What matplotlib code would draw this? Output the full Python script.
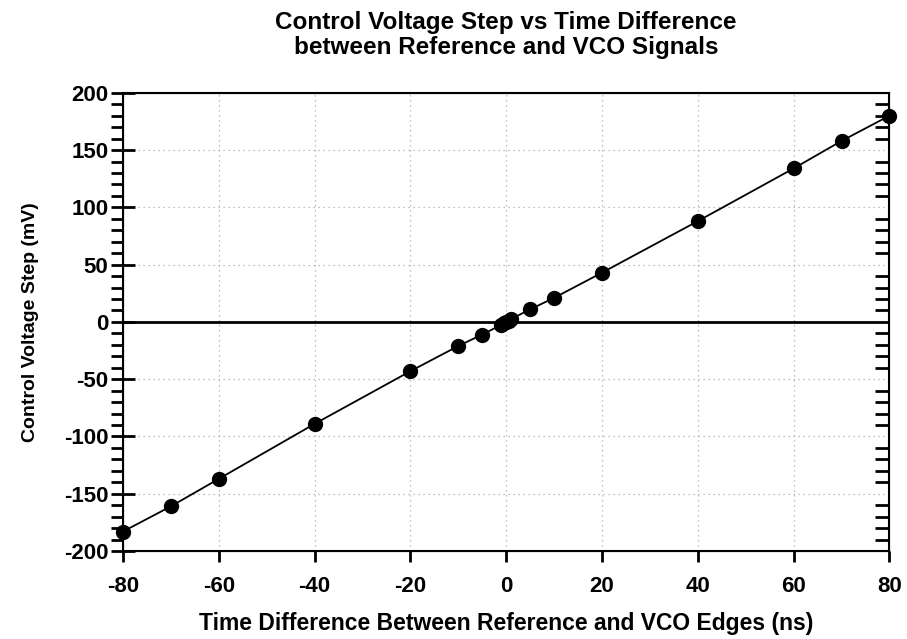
import numpy as np
import matplotlib.pyplot as plt
from matplotlib.ticker import MultipleLocator, FixedLocator

# dados
dt_ns = [-80, -70, -60, -40, -20, -10, -5, -1, -0.5, 0, 0.5, 1, 5, 10, 20, 40, 60, 70, 80]
v_mv = [-183, -161, -137, -89, -43, -21, -11, -2.5, -1.2, 0, 1.2, 2.5, 11, 21, 43, 88, 134, 158, 180]
x_ticks = [-80, -60, -40, -20, 0, 20, 40, 60, 80]
y_ticks = [-200, -150, -100, -50, 0, 50, 100, 150, 200]

plt.rcParams['font.family'] = ['Liberation Sans', 'DejaVu Sans']
plt.rcParams['font.weight'] = 'bold'
plt.rcParams['axes.unicode_minus'] = False

fig = plt.figure(figsize=(9.07, 6.39), dpi=100)
ax = fig.add_axes([0.1356, 0.1377, 0.845, 0.717])

ax.grid(True, which='major', linestyle=(0, (1, 3)), color='#aaaaaa', linewidth=0.9)
ax.axhline(0, color='black', linewidth=2, zorder=2)
ax.plot(dt_ns, v_mv, color='black', linewidth=1.3, marker='o', markersize=10, zorder=3, clip_on=False)

ax.set_xlim(-80, 80)
ax.set_ylim(-200, 200)
ax.set_xticks(x_ticks)
ax.set_yticks(y_ticks)
ax.yaxis.set_minor_locator(MultipleLocator(10))
ax.tick_params(axis='x', which='major', direction='out', length=8, width=2, labelsize=16, pad=10)
ax.tick_params(axis='y', which='major', direction='inout', length=17, width=2, labelsize=16, pad=2)
ax.tick_params(axis='y', which='minor', direction='out', length=9, width=2)
for s in ax.spines.values():
    s.set_linewidth(1.5)

# marcas menores do lado direito (para dentro), sem as posições principais
ax2 = ax.twinx()
ax2.set_ylim(-200, 200)
ax2.set_yticks([])
minor_right = [v for v in range(-200, 201, 10) if v % 50 != 0]
ax2.yaxis.set_minor_locator(FixedLocator(minor_right))
ax2.tick_params(axis='y', which='minor', direction='in', length=10, width=2, labelright=False)

ax.set_xlabel('Time Difference Between Reference and VCO Edges (ns)', fontsize=16.5, fontweight='bold', labelpad=11)
ax.set_ylabel('Control Voltage Step (mV)', fontsize=14, fontweight='bold', labelpad=18)
ax.set_title('Control Voltage Step vs Time Difference\nbetween Reference and VCO Signals',
             fontsize=17.5, fontweight='bold', pad=28, linespacing=1.1)

fig.savefig('out.png', dpi=100)
